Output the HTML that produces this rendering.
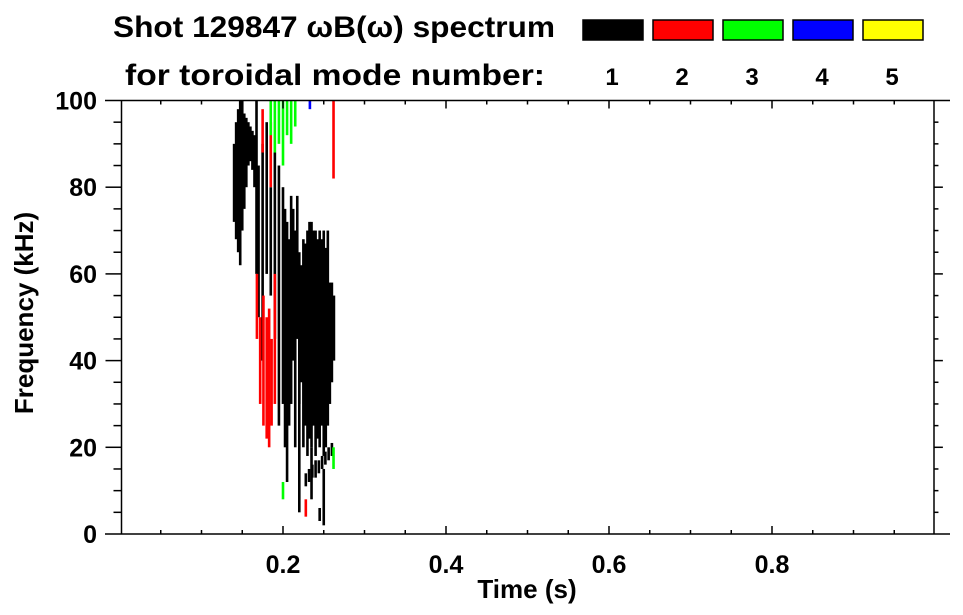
<!DOCTYPE html>
<html><head><meta charset="utf-8">
<style>
body{margin:0;background:#fff;}
svg{display:block;font-family:"Liberation Sans",sans-serif;font-weight:bold;}
</style></head>
<body>
<svg id="chart" width="963" height="615" viewBox="0 0 963 615">
<text x="113" y="37" font-size="30" textLength="442" lengthAdjust="spacingAndGlyphs">Shot 129847 ωB(ω) spectrum</text>
<text x="125" y="85" font-size="30" textLength="420" lengthAdjust="spacingAndGlyphs">for toroidal mode number:</text>
<g id="legend"></g>
<g id="marks"></g>
<g id="axes"></g>
<text x="527" y="598" font-size="26" text-anchor="middle">Time (s)</text>
<text transform="translate(33,313) rotate(-90)" font-size="26" text-anchor="middle">Frequency (kHz)</text>
</svg>
<script>
const modeColors = ["#000000","#ff0000","#00ff00","#0000ff","#ffff00"];
const modeLabels = ["1","2","3","4","5"];
const xTicks = [0.2,0.4,0.6,0.8];
const yTicks = [0,20,40,60,80,100];
const segT  = [0.140,0.1425,0.145,0.1475,0.150,0.1525,0.155,0.1575,0.160,0.1625,0.165,0.1675,
 0.170,0.175,0.180,0.185,0.190,0.195,0.200,0.2025,
 0.205,0.2075,0.210,0.2125,0.215,0.2175,0.220,0.2225,0.225,0.2275,0.230,0.2325,0.235,0.2375,0.240,0.2425,0.245,0.2475,0.250,0.2525,0.255,0.2575,0.260,0.2625,
 0.228,0.232,0.236,0.240,0.244,0.248,0.252,0.256,0.260,
 0.220,0.235,0.250,0.245,
 0.168,0.172,0.176,0.180,0.183,0.186,0.190,0.175,0.185,0.262,0.228,
 0.185,0.190,0.195,0.200,0.205,0.210,0.215,0.200,0.262,
 0.233];
const segF0 = [72,68,65,62,70,75,80,85,86,84,80,60,
 50,40,60,55,45,25,30,20,
 12,25,30,40,20,45,30,35,20,25,18,22,20,25,18,22,20,25,18,20,25,30,35,40,
 11,12,13,13,14,15,16,17,18,
 5,8,2,3,
 45,30,25,22,20,25,30,88,80,82,4,
 92,88,90,85,92,90,94,8,15,
 98];
const segF1 = [90,95,98,100,100,97,96,95,94,93,92,100,
 85,90,95,80,88,85,80,75,
 72,68,78,75,70,78,65,62,68,67,70,72,72,70,70,68,70,68,70,66,70,58,58,55,
 14,15,16,17,17,18,19,20,21,
 60,20,15,6,
 60,50,55,50,52,45,60,98,95,100,8,
 100,100,100,100,100,100,100,12,20,
 100];
const segMode = [1,1,1,1,1,1,1,1,1,1,1,1,
 1,1,1,1,1,1,1,1,
 1,1,1,1,1,1,1,1,1,1,1,1,1,1,1,1,1,1,1,1,1,1,1,1,
 1,1,1,1,1,1,1,1,1,
 1,1,1,1,
 2,2,2,2,2,2,2,2,2,2,2,
 3,3,3,3,3,3,3,3,3,
 4];
const X0=120,X1=935,Y0=534,Y1=100.5;
const xs=t=>X0+(t-0)/(1-0)*(X1-X0);
const ys=f=>Y0-(f-0)/(100-0)*(Y0-Y1);
const NS="http://www.w3.org/2000/svg";
function mk(tag,attrs,parent){const e=document.createElementNS(NS,tag);for(const k in attrs)e.setAttribute(k,attrs[k]);parent.appendChild(e);return e;}
const legend=document.getElementById('legend');
modeColors.forEach((c,i)=>{
  const r=mk('rect',{x:583+i*70,y:20,width:60,height:20,fill:c,stroke:'#000','stroke-width':1.5},legend);
  
  
  const t=mk('text',{x:612+i*70,y:85,'font-size':24,'text-anchor':'middle'},legend);
  t.textContent=modeLabels[i];
  
  
});
const marks=document.getElementById('marks');
for(let i=0;i<segT.length;i++){
  const x=xs(segT[i]);
  const r=mk('rect',{x:x-1.3,y:ys(segF1[i]),width:2.6,height:ys(segF0[i])-ys(segF1[i]),fill:modeColors[segMode[i]-1]},marks);
  
  
}
const axes=document.getElementById('axes');
const ln=(x1,y1,x2,y2,w)=>mk('line',{x1,y1,x2,y2,stroke:'#000','stroke-width':w||1.5},axes);
ln(105,Y0,950,Y0);ln(105,Y1,950,Y1);ln(X0+1.5,Y1,X0+1.5,Y0);ln(X1-1,Y1,X1-1,Y0);
for(let v=0.05;v<1;v+=0.05){
  const x=xs(v);const major=Math.abs(v*5-Math.round(v*5))<1e-6;const L=major?8:4;
  ln(x,Y0,x,Y0-L);ln(x,Y1,x,Y1+L);
}
for(let f=5;f<100;f+=5){
  const y=ys(f);const major=f%20===0;const L=major?16:8;
  ln(X0+1.5-L,y,X0+1.5,y);ln(X1-1,y,X1-1+L/1.8,y);
}
xTicks.forEach(v=>{
  const t=mk('text',{x:xs(v),y:573,'font-size':25,'text-anchor':'middle'},axes);
  t.textContent=v.toFixed(1);
  
  
});
yTicks.forEach(v=>{
  const t=mk('text',{x:97,y:ys(v)+9,'font-size':25,'text-anchor':'end'},axes);
  t.textContent=v;
  
  
});
</script>
</body></html>
